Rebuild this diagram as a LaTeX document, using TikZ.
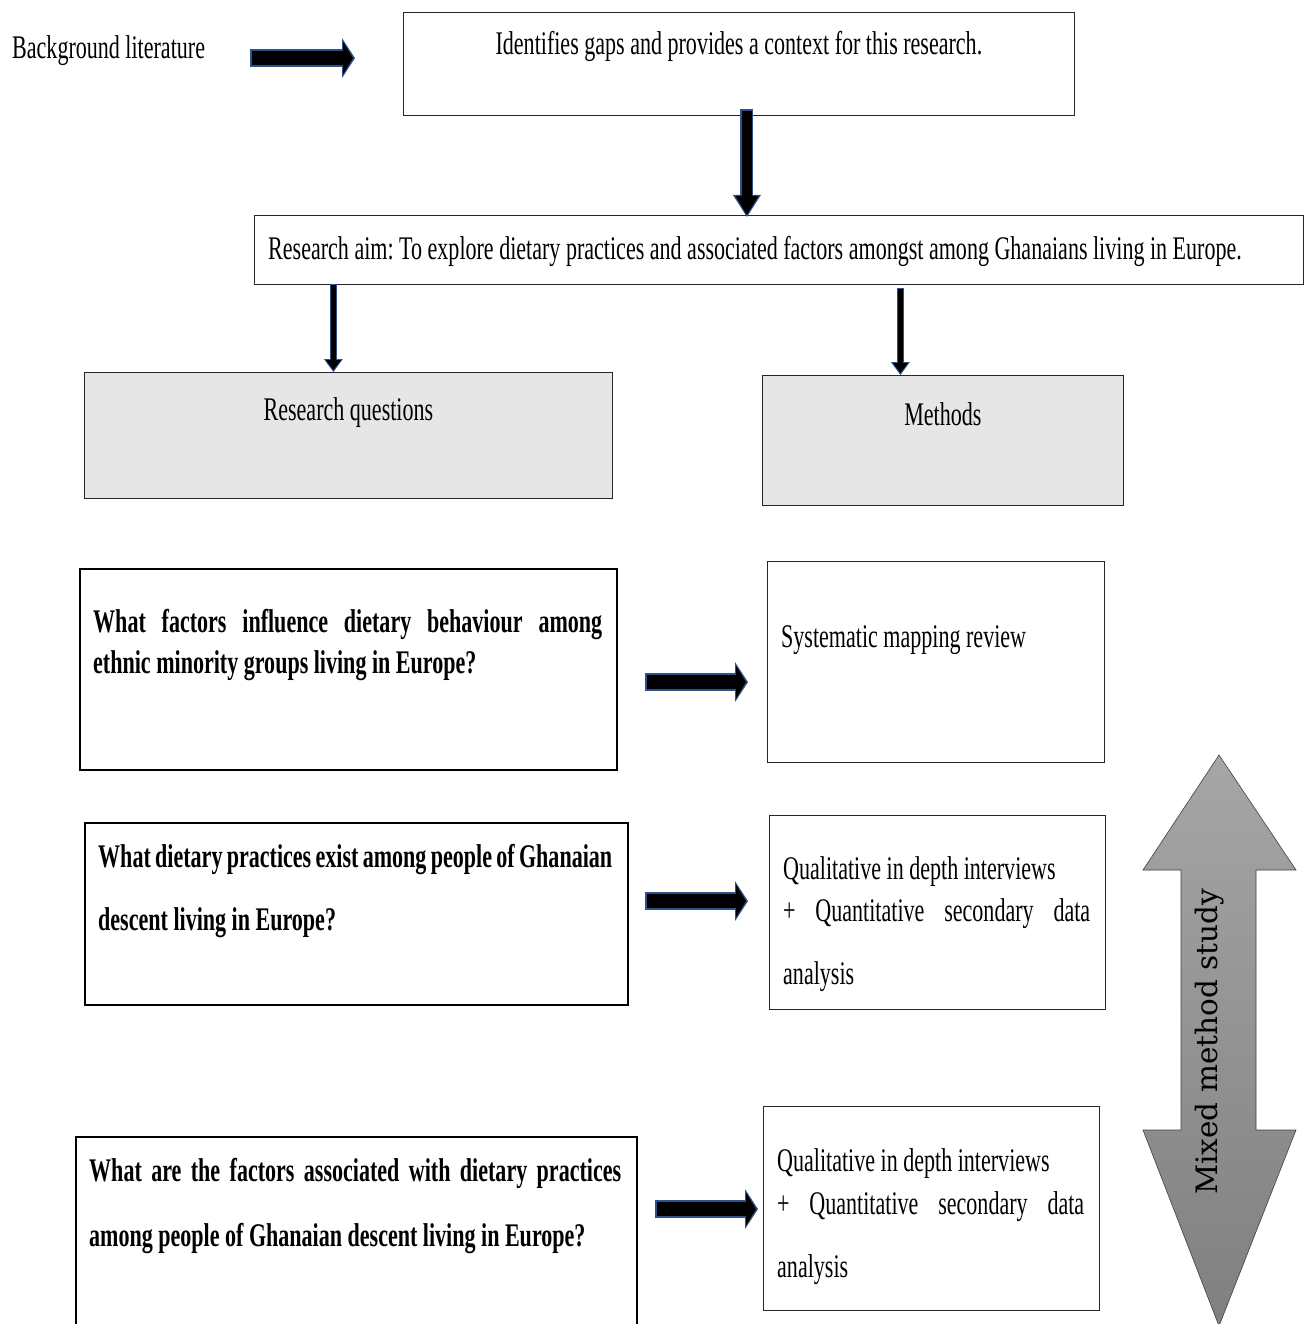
\documentclass[tikz,border=0pt]{standalone}
\usepackage{fontspec}
\setmainfont[FakeStretch=0.668]{Liberation Serif}
\newfontfamily\mixedfont{DejaVu Serif}
\usetikzlibrary{arrows.meta,positioning,calc}
\definecolor{arrowblue}{HTML}{2F528F}
\definecolor{boxgray}{HTML}{E7E6E6}
\setlength{\parindent}{0pt}
\frenchspacing

\begin{document}
\begin{tikzpicture}
[x=1pt,y=-1pt,
box/.style={draw=black!85,line width=0.8pt,inner sep=0pt,anchor=north west},
greybox/.style={box,fill=boxgray},
qbox/.style={draw=black,line width=2.2pt,inner sep=0pt,anchor=north west},
txt/.style={inner sep=0pt,font=\fontsize{33}{38}\selectfont},
qtxt/.style={inner sep=0pt,anchor=north west,align=justify,font=\bfseries\fontsize{33}{41}\selectfont},
mtxt/.style={inner sep=0pt,anchor=north west,align=justify,text width=307pt,font=\fontsize{33}{63}\selectfont},
harrow/.style 2 args={black,line width=14pt,shorten <=#1,shorten >=#2+2pt,
  -{Triangle[width=33pt,length=10pt,line width=0pt]},
  preaction={draw=arrowblue,line width=18pt,shorten <=#1-2pt,shorten >=#2,
  -{Triangle[width=40pt,length=13pt,line width=0pt]}}},
varrow/.style 2 args={black,line width=10pt,shorten <=#1,shorten >=#2+2pt,
  -{Triangle[width=23pt,length=19pt,line width=0pt]},
  preaction={draw=arrowblue,line width=13pt,shorten <=#1-2pt,shorten >=#2,
  -{Triangle[width=28pt,length=22pt,line width=0pt]}}},
sarrow/.style 2 args={black,line width=4.5pt,shorten <=#1,shorten >=#2+2pt,
  -{Triangle[width=15pt,length=10pt,line width=0pt]},
  preaction={draw=arrowblue,line width=7pt,shorten <=#1-1pt,shorten >=#2,
  -{Triangle[width=19pt,length=13pt,line width=0pt]}}}]
\useasboundingbox (0,0) rectangle (1310,1324);
%% top row
\node[txt,anchor=base west] (bglit) at (12,59) {Background literature};
\node[box,minimum width=671pt,minimum height=103pt] (gaps) at (403,12) {};
\node[txt,anchor=base] (gapstxt) at ($(gaps.north)+(0,43)$)
{Identifies gaps and provides a context for this research.};
%%
\node[box,minimum width=1049pt,minimum height=69pt] (aim) at (254,215) {};
\node[txt,anchor=base west] (aimtxt) at ($(aim.north west)+(14,44)$)
{Research aim: To explore dietary practices and associated factors amongst among Ghanaians living in Europe.};
%%
\node[greybox,minimum width=528pt,minimum height=126pt] (rq) at (84,372) {};
\node[txt,anchor=base] (rqtxt) at ($(rq.north)+(0,48)$) {Research questions};
\node[greybox,minimum width=361pt,minimum height=130pt] (meth) at (762,375) {};
\node[txt,anchor=base] (methtxt) at ($(meth.north)+(0,50)$) {Methods};
%% questions
\node[qbox,minimum width=537pt,minimum height=201pt] (q1) at (79,568) {};
\node[qtxt,text width=509pt,below right=41pt and 14pt of q1.north west] (q1txt)
{What factors influence dietary behaviour among\linebreak ethnic minority groups living in Europe?};
\node[qbox,minimum width=543pt,minimum height=182pt] (q2) at (84,822) {};
\node[qtxt,text width=514pt,below right=22pt and 14pt of q2.north west,
font=\bfseries\fontsize{33}{63}\selectfont] (q2txt)
{What dietary practices exist among people of Ghanaian\linebreak descent living in Europe?};
\node[qbox,minimum width=561pt,minimum height=210pt] (q3) at (75,1136) {};
\node[qtxt,text width=532pt,below right=22pt and 14pt of q3.north west,
font=\bfseries\fontsize{33}{65}\selectfont] (q3txt)
{What are the factors associated with dietary practices\linebreak among people of Ghanaian descent living in Europe?};
%% methods
\node[box,minimum width=337pt,minimum height=201pt] (m1) at (767,561) {};
\node[txt,anchor=base west] (m1txt) at ($(m1.north west)+(14,86)$) {Systematic mapping review};
\node[box,minimum width=336pt,minimum height=194pt] (m2) at (769,815) {};
\node[mtxt,below right=41pt and 14pt of m2.north west] (m2txt)
{Qualitative in depth interviews\\[-21pt]+ Quantitative secondary data\linebreak analysis};
\node[box,minimum width=336pt,minimum height=204pt] (m3) at (763,1106) {};
\node[mtxt,below right=42pt and 14pt of m3.north west] (m3txt)
{Qualitative in depth interviews\\[-20pt]+ Quantitative secondary data\linebreak analysis};
%% mixed method arrow
\shade[top color=black!35,bottom color=black!50,draw=black!75,line width=0.6pt]
(1219,755) -- (1296,870) -- (1256,870) -- (1256,1130) -- (1296,1130) -- (1219,1326)
-- (1143,1130) -- (1181,1130) -- (1181,870) -- (1143,870) -- cycle;
\node[rotate=90,inner sep=0pt,font=\mixedfont\fontsize{29.5}{34}\selectfont] (mixed) at (1210,1042)
{Mixed method study};
%% arrows
\draw[harrow={47pt}{48pt}] ([yshift=-7pt]bglit.east) -- ([yshift=-7pt]bglit.east -| gaps.west);
\draw[varrow={-5pt}{-2pt}] ([xshift=8pt]gaps.south) -- ([xshift=8pt]gaps.south |- aim.north);
\draw[sarrow={0pt}{0pt}] ([xshift=-15pt]rq.north |- aim.south) -- ([xshift=-15pt]rq.north);
\draw[sarrow={4pt}{0pt}] ([xshift=-42.5pt]meth.north |- aim.south) -- ([xshift=-42.5pt]meth.north);
\draw[harrow={29pt}{19pt}] ([yshift=-12.5pt]q1.east) -- ([yshift=-12.5pt]q1.east -| m1.west);
\draw[harrow={18pt}{21pt}] ([yshift=13pt]q2.east) -- ([yshift=13pt]q2.east -| m2.west);
\draw[harrow={19pt}{5pt}] ([yshift=33pt]q3.east) -- ([yshift=33pt]q3.east -| m3.west);
\end{tikzpicture}
\end{document}
